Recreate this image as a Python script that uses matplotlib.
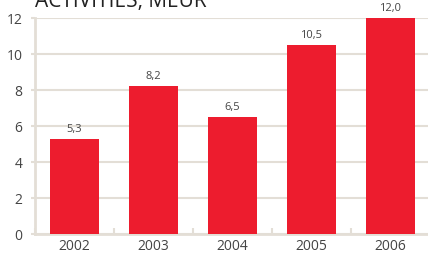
import matplotlib
matplotlib.use("Agg")
import matplotlib.pyplot as plt

years = ["2002", "2003", "2004", "2005", "2006"]
values = [5.3, 8.2, 6.5, 10.5, 12.0]
value_labels = ["5,3", "8,2", "6,5", "10,5", "12,0"]
y_ticks = [0, 2, 4, 6, 8, 10, 12]

BAR_COLOR = "#ed1c2e"
GRID_COLOR = "#e3ded6"
TEXT_COLOR = "#444444"

plt.rcParams["font.family"] = ["Open Sans", "DejaVu Sans"]

fig = plt.figure(figsize=(4.28, 2.54), dpi=100)
ax = fig.add_axes([35 / 428, 20 / 254, 395 / 428, 216 / 254])

x = list(range(len(years)))
ax.bar(x, values, width=0.62, color=BAR_COLOR, zorder=3)

for xi, v, lab in zip(x, values, value_labels):
    ax.text(xi, v + 0.22, lab, ha="center", va="bottom", fontsize=8,
            color=TEXT_COLOR, clip_on=False)

ax.set_xlim(-0.5, 4.5)
ax.set_ylim(0, 12)
ax.set_yticks(y_ticks)
ax.set_xticks(x)
ax.set_xticklabels(years)
ax.set_xticks([i - 0.5 for i in range(len(years) + 1)], minor=True)
ax.yaxis.grid(True, color=GRID_COLOR, linewidth=1.5, zorder=0)

for side in ["top", "right"]:
    ax.spines[side].set_visible(False)
for side in ["left", "bottom"]:
    ax.spines[side].set_color(GRID_COLOR)
    ax.spines[side].set_linewidth(2)

ax.tick_params(axis="y", colors=GRID_COLOR, labelcolor=TEXT_COLOR,
               labelsize=10, length=3, width=1.5, pad=6)
ax.tick_params(axis="x", which="major", length=0, labelcolor=TEXT_COLOR,
               labelsize=10, pad=3.5)
ax.tick_params(axis="x", which="minor", direction="in", length=4, width=1.5,
               colors=GRID_COLOR)

fig.text(35 / 428, 1 - 7 / 254, "ACTIVITIES, MEUR", fontsize=15,
         color="#222222", ha="left", va="baseline")

fig.savefig("out.png", dpi=100)
